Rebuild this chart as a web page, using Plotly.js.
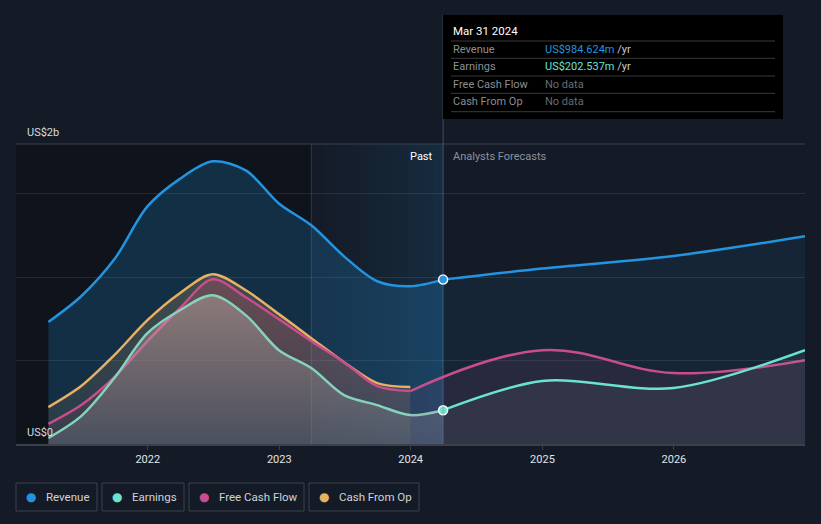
<!DOCTYPE html>
<html>
<head>
<meta charset="utf-8">
<script src="https://cdn.plot.ly/plotly-3.0.1.min.js"></script>
<style>
html,body{margin:0;padding:0;background:#151b26;}
#chart{width:821px;height:524px;}
</style>
</head>
<body>
<div id="chart"></div>
<script>
// ---- data (US$ millions) ----
const pastDates = ['2021-03-31','2021-06-30','2021-09-30','2021-12-31','2022-03-31','2022-06-30','2022-09-30','2022-12-31','2023-03-31','2023-06-30','2023-09-30','2023-12-31','2024-03-31'];
const revenuePast = [731, 885, 1106, 1423, 1588, 1693, 1639, 1441, 1310, 1124, 975, 945, 984.624];
const earningsPast = [36, 167, 395, 664, 801, 891, 772, 562, 455, 293, 233, 173, 202.537];
const cfDates = ['2021-03-31','2021-06-30','2021-09-30','2021-12-31','2022-03-31','2022-06-30','2022-09-30','2022-12-31','2023-03-31','2023-06-30','2023-09-30','2023-12-31'];
const fcfPast = [120, 233, 401, 616, 813, 987, 879, 748, 616, 490, 347, 317];
const cfoPast = [221, 347, 532, 742, 903, 1017, 921, 778, 634, 490, 365, 341];

const fcDates = ['2024-03-31','2024-12-31','2025-12-31','2026-12-31'];
const revenueFc = [984.624, 1051, 1126, 1244];
const earningsFc = [202.537, 377, 335, 562];
const fcfFcDates = ['2023-12-31','2024-12-31','2025-12-31','2026-12-31'];
const fcfFc = [317, 562, 425, 502];

const xTicks = ['2022-01-01','2023-01-01','2024-01-01','2025-01-01','2026-01-01'];
const xTickText = ['2022','2023','2024','2025','2026'];
const yGrid = [500, 1000, 1500];
const yMax = 1797;

const C = {rev:'#2394df', earn:'#6be3d0', fcf:'#c94d8c', cfo:'#e8b062'};
const FONT = 'Roboto, "Open Sans", sans-serif';

// pixel -> paper helpers (plot area: x 16..805, y 144..444)
const PX = x => (x - 16) / 789;
const PY = y => (444 - y) / 300;

const line = (c, w, s) => ({color: c, width: w || 2.5, shape: 'spline', smoothing: s || 0.9});

const traces = [
  {x: pastDates, y: revenuePast, name: 'Revenue', type: 'scatter', mode: 'lines', line: line(C.rev), fill: 'tozeroy',
   fillcolor: 'rgba(35,148,223,0.22)', hoverinfo: 'skip'},
  {x: fcDates, y: revenueFc, name: 'Revenue', showlegend: false, type: 'scatter', mode: 'lines', line: line(C.rev), fill: 'tozeroy',
   fillcolor: 'rgba(35,148,223,0.09)', hoverinfo: 'skip'},
  {x: cfDates, y: cfoPast, name: 'Cash From Op', type: 'scatter', mode: 'lines', line: line(C.cfo), fill: 'tozeroy',
   fillgradient: {type: 'vertical', start: 0, stop: 1000, colorscale: [[0, 'rgba(232,176,98,0.08)'], [1, 'rgba(232,176,98,0.22)']]}, hoverinfo: 'skip'},
  {x: cfDates, y: fcfPast, name: 'Free Cash Flow', type: 'scatter', mode: 'lines', line: line(C.fcf), fill: 'tozeroy',
   fillgradient: {type: 'vertical', start: 0, stop: 1000, colorscale: [[0, 'rgba(215,80,110,0.08)'], [1, 'rgba(215,80,110,0.26)']]}, hoverinfo: 'skip'},
  {x: pastDates, y: earningsPast, name: 'Earnings', type: 'scatter', mode: 'lines', line: line('#86d3bd'), fill: 'tozeroy',
   fillgradient: {type: 'vertical', start: 0, stop: 900, colorscale: [[0, 'rgba(130,130,135,0.30)'], [1, 'rgba(215,205,190,0.36)']]}, hoverinfo: 'skip'},
  {x: fcfFcDates, y: fcfFc, name: 'Free Cash Flow', showlegend: false, type: 'scatter', mode: 'lines', line: line(C.fcf, 2.5, 1.1), fill: 'tozeroy',
   fillcolor: 'rgba(199,77,140,0.10)', hoverinfo: 'skip'},
  {x: fcDates, y: earningsFc, name: 'Earnings', showlegend: false, type: 'scatter', mode: 'lines', line: line(C.earn), fill: 'tozeroy',
   fillcolor: 'rgba(150,155,170,0.10)', hoverinfo: 'skip'},
  {x: [pastDates[pastDates.length-1]], y: [revenuePast[revenuePast.length-1]], type: 'scatter', mode: 'markers', showlegend: false,
   marker: {color: C.rev, size: 9, line: {color: '#ffffff', width: 1.5}}, hoverinfo: 'skip'},
  {x: [pastDates[pastDates.length-1]], y: [earningsPast[earningsPast.length-1]], type: 'scatter', mode: 'markers', showlegend: false,
   marker: {color: C.earn, size: 9, line: {color: '#ffffff', width: 1.5}}, hoverinfo: 'skip'}
];

// background shapes
const shapes = [];
shapes.push({type: 'rect', xref: 'x', yref: 'paper', x0: '2020-12-31', x1: '2023-03-31', y0: 0, y1: 1,
  fillcolor: 'rgba(0,0,0,0.28)', line: {width: 0}, layer: 'below'});
// past-year highlight band with horizontal gradient (fine strips)
const bandStart = new Date('2023-03-31T00:00:00Z').getTime(), bandEnd = new Date('2024-03-31T00:00:00Z').getTime();
const nStrips = 44;
for (let i = 0; i < nStrips; i++) {
  const a = 0.02 + 0.2 * Math.pow((i + 0.5) / nStrips, 1.3);
  shapes.push({type: 'rect', xref: 'x', yref: 'paper',
    x0: bandStart + (bandEnd - bandStart) * i / nStrips,
    x1: bandStart + (bandEnd - bandStart) * (i + 1) / nStrips + 3600000 * 12,
    y0: 0, y1: 1, fillcolor: 'rgba(35,148,223,' + (a / 1.6).toFixed(3) + ')', line: {width: 0}, layer: 'below'});
}
shapes.push({type: 'line', xref: 'x', yref: 'paper', x0: '2023-03-31', x1: '2023-03-31', y0: 0, y1: 1,
  line: {color: 'rgba(90,130,170,0.35)', width: 1}, layer: 'below'});
// top line
shapes.push({type: 'line', xref: 'paper', yref: 'paper', x0: 0, x1: 1, y0: 1, y1: 1,
  line: {color: '#3a404b', width: 1}});
// present vertical line
shapes.push({type: 'line', xref: 'x', yref: 'paper', x0: '2024-03-31', x1: '2024-03-31', y0: 0, y1: PY(15),
  line: {color: 'rgba(110,140,170,0.45)', width: 1}});
// tooltip box
shapes.push({type: 'rect', xref: 'paper', yref: 'paper', x0: PX(443), x1: PX(783), y0: PY(119), y1: PY(15),
  fillcolor: '#000000', line: {width: 0}});
[41, 58.3, 76, 93.3, 111.7].forEach(y => shapes.push({type: 'line', xref: 'paper', yref: 'paper',
  x0: PX(451), x1: PX(775), y0: PY(y), y1: PY(y), line: {color: '#3a3a3a', width: 1}}));

const ann = [];
const T = (text, x, y, opts) => ann.push(Object.assign({text: text, xref: 'paper', yref: 'paper', x: PX(x), y: PY(y),
  xanchor: 'left', yanchor: 'middle', showarrow: false, font: {family: FONT, size: 11, color: '#d8dbe0'}}, opts || {}));

T('US$2b', 25, 132);
T('US$0', 25, 432);
T('Past', 435, 156, {xanchor: 'right', font: {family: FONT, size: 11, color: '#ffffff'}});
T('Analysts Forecasts', 451, 156, {font: {family: FONT, size: 11, color: '#8c919a'}});

// tooltip texts
T('Mar 31 2024', 451, 31, {font: {family: FONT, size: 11.5, color: '#ffffff'}});
const tipLabels = ['Revenue', 'Earnings', 'Free Cash Flow', 'Cash From Op'];
const tipValues = ['<span style="color:#2394df">US$984.624m</span> /yr', '<span style="color:#6be3d0">US$202.537m</span> /yr', 'No data', 'No data'];
const tipValueColors = ['#c8cbd0', '#c8cbd0', '#686c73', '#686c73'];
const tipRows = [49.5, 66.5, 84, 101];
tipLabels.forEach((l, i) => {
  T(l, 451, tipRows[i], {font: {family: FONT, size: 11, color: '#8a8e95'}});
  T(tipValues[i], 543, tipRows[i], {font: {family: FONT, size: 11, color: tipValueColors[i]}});
});

// legend boxes
const legendItems = [
  {name: 'Revenue', color: C.rev, x0: 16, x1: 97},
  {name: 'Earnings', color: C.earn, x0: 102, x1: 184},
  {name: 'Free Cash Flow', color: C.fcf, x0: 189, x1: 304},
  {name: 'Cash From Op', color: C.cfo, x0: 309, x1: 419}
];
legendItems.forEach(it => {
  shapes.push({type: 'rect', xref: 'paper', yref: 'paper', x0: PX(it.x0), x1: PX(it.x1), y0: PY(511), y1: PY(483),
    fillcolor: 'rgba(0,0,0,0)', line: {color: '#3c424d', width: 1}});
  T('<span style="color:' + it.color + ';font-size:12px">●</span>', it.x0 + 8, 496.5, {font: {family: 'DejaVu Sans', size: 12, color: it.color}});
  T(it.name, it.x0 + 28, 496.5, {font: {family: FONT, size: 11.5, color: '#d0d3d8'}});
});

const layout = {
  width: 821, height: 524,
  margin: {l: 16, r: 16, t: 144, b: 80},
  paper_bgcolor: '#151b26', plot_bgcolor: '#151b26',
  showlegend: false,
  font: {family: FONT, color: '#d8dbe0', size: 11},
  xaxis: {type: 'date', range: ['2020-12-31', '2026-12-31'], tickvals: xTicks, ticktext: xTickText,
    showgrid: false, zeroline: false, showline: true, linecolor: '#3b414b', linewidth: 1.5,
    ticks: 'outside', ticklen: 4, tickcolor: '#3b414b', tickfont: {family: FONT, size: 11, color: '#e2e4e8'}, fixedrange: true},
  yaxis: {range: [0, yMax], tickvals: yGrid, showticklabels: false, showgrid: true, gridcolor: 'rgba(255,255,255,0.09)',
    gridwidth: 1, zeroline: false, showline: false, fixedrange: true},
  shapes: shapes,
  annotations: ann
};

Plotly.newPlot('chart', traces, layout, {displayModeBar: false, staticPlot: true});
</script>
</body>
</html>
